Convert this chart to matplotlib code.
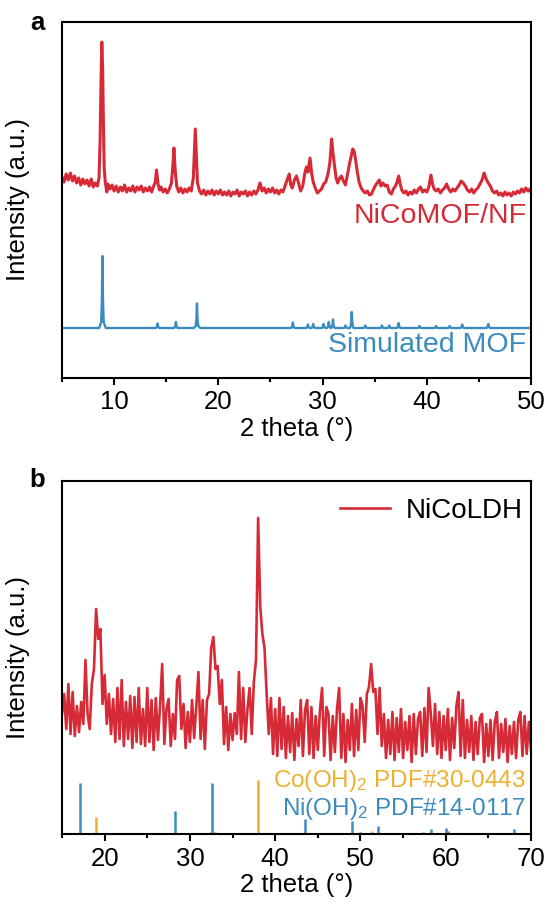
import numpy as np
import matplotlib
matplotlib.use("Agg")
import matplotlib.pyplot as plt
from matplotlib.ticker import MultipleLocator

plt.rcParams['font.family'] = ['Liberation Sans', 'DejaVu Sans']
plt.rcParams['mathtext.fontset'] = 'custom'
plt.rcParams['mathtext.rm'] = 'Liberation Sans'
plt.rcParams['mathtext.it'] = 'Liberation Sans:italic'

RED = '#d62b36'
BLUE = '#3b8bbf'
ORANGE = '#ecb130'
FS = 18.5

# ---- panel a: NiCoMOF/NF measured pattern (2theta, intensity) ----
mof_x = [5.0, 5.2, 5.4, 5.6, 5.8, 6.0, 6.2, 6.4, 6.6, 6.8, 7.0, 7.2, 7.4, 7.6, 7.8, 8.0, 8.2, 8.4,
         8.55, 8.65, 8.75, 8.82, 8.9, 8.98, 9.05, 9.15, 9.3, 9.4,
         9.6, 9.8, 10.0, 10.2, 10.4, 10.6, 10.8, 11.0, 11.2, 11.4, 11.6, 11.8, 12.0, 12.2, 12.4, 12.6,
         12.8, 13.0, 13.2, 13.4, 13.6, 13.8, 13.95, 14.07, 14.2, 14.35,
         14.5, 14.7, 14.9, 15.1, 15.3, 15.5, 15.62, 15.74, 15.86, 16.0, 16.2, 16.4, 16.6, 16.8, 17.0,
         17.2, 17.4, 17.6, 17.72, 17.79, 17.88, 18.0, 18.2, 18.4, 18.6, 18.8, 19.0, 19.2, 19.4, 19.6,
         19.8, 20.0, 20.2, 20.4, 20.6, 20.8, 21.0, 21.2, 21.4, 21.6, 21.8, 22.0, 22.2, 22.4, 22.6,
         22.8, 23.0, 23.2, 23.4, 23.6, 23.8, 24.0, 24.2, 24.4, 24.6, 24.8, 25.0, 25.2, 25.4, 25.6,
         25.8, 26.0, 26.2, 26.4, 26.6, 26.8, 26.95, 27.1, 27.3, 27.5, 27.7, 27.9, 28.1, 28.3, 28.45,
         28.6, 28.8, 28.95, 29.1, 29.3, 29.5, 29.7, 29.9, 30.1, 30.3, 30.5, 30.7, 30.87, 31.0, 31.15,
         31.3, 31.45, 31.6, 31.8, 32.0, 32.2, 32.4, 32.6, 32.75, 32.9, 33.05, 33.2, 33.35, 33.5, 33.7,
         33.9, 34.1, 34.3, 34.5, 34.7, 34.9, 35.1, 35.3, 35.45, 35.6, 35.8, 36.0, 36.2, 36.4, 36.6,
         36.8, 37.0, 37.15, 37.3, 37.45, 37.6, 37.8, 38.0, 38.2, 38.4, 38.6, 38.8, 39.0, 39.2, 39.4,
         39.6, 39.8, 40.0, 40.2, 40.4, 40.55, 40.7, 40.9, 41.1, 41.3, 41.5, 41.7, 41.9, 42.1, 42.3,
         42.5, 42.7, 42.9, 43.1, 43.3, 43.5, 43.7, 43.9, 44.1, 44.3, 44.5, 44.7, 44.9, 45.1, 45.3,
         45.5, 45.7, 45.9, 46.1, 46.3, 46.5, 46.7, 46.9, 47.1, 47.3, 47.5, 47.7, 47.9, 48.1, 48.3,
         48.5, 48.7, 48.9, 49.1, 49.3, 49.5, 49.7, 49.9, 50.0]
mof_y = [201, 196, 204, 198, 205, 197, 202, 195, 200, 193, 199, 194, 198, 192, 199, 191, 195, 192,
         200, 235, 300, 336, 310, 250, 210, 196, 186, 194,
         189, 193, 187, 192, 186, 191, 187, 193, 186, 190, 187, 192, 186, 191, 188, 192,
         186, 190, 187, 191, 186, 192, 196, 208, 195, 188,
         191, 186, 189, 185, 189, 195, 210, 230, 208, 192, 186, 190, 185, 189, 186,
         190, 187, 200, 230, 249, 225, 195, 187, 184, 188, 183, 187, 184, 188, 183,
         187, 184, 188, 183, 186, 183, 187, 182, 186, 184, 188, 182, 186, 184, 187,
         182, 186, 183, 187, 184, 188, 195, 187, 190, 185, 189, 186, 190, 185, 188,
         184, 188, 186, 192, 198, 204, 193, 190, 198, 202, 195, 187, 192, 205, 211,
         206, 220, 205, 196, 190, 185, 187, 189, 194, 196, 203, 215, 239, 225, 212,
         200, 195, 199, 202, 197, 193, 204, 215, 222, 229, 226, 216, 205, 196, 190,
         187, 185, 187, 183, 184, 189, 193, 196, 198, 192, 195, 192, 193, 186, 184,
         189, 192, 196, 202, 194, 188, 185, 187, 183, 186, 184, 188, 185, 189, 191,
         186, 188, 186, 191, 203, 194, 189, 187, 189, 185, 188, 190, 194, 189, 186,
         189, 187, 190, 193, 197, 195, 192, 188, 186, 189, 185, 188, 190, 194, 198,
         205, 199, 195, 192, 187, 185, 187, 183, 185, 182, 186, 183, 185, 182, 186,
         184, 187, 185, 189, 186, 190, 187, 189, 186]

# ---- panel a: simulated MOF peak table ----
sim_base = 50
sim_pos = [8.88, 14.17, 15.93, 17.95, 27.15, 28.6, 29.1, 30.1, 30.6, 31.0, 32.2, 32.8,
           34.1, 35.7, 36.4, 37.3, 39.3, 40.9, 42.2, 43.4, 45.9]
sim_h = [72, 4.5, 6, 24.5, 5.5, 3.5, 4, 4, 6, 8.5, 2.5, 16,
         2.5, 2.5, 2.5, 5, 2, 2, 2, 3.5, 4]

# ---- panel b: NiCoLDH measured pattern, 0.25 deg step from 15 to 70 ----
ldh_y = [120, 140, 105, 150, 100, 142, 98, 128, 102, 132, 110, 174, 120, 105, 150, 165, 225, 195, 205, 130,
         159, 110, 140, 100, 135, 92, 146, 95, 154, 88, 132, 95, 138, 86, 137, 92, 146, 90, 125, 88,
         146, 92, 134, 84, 136, 94, 128, 170, 90, 125, 135, 88, 120, 95, 154, 158, 105, 130, 86, 122,
         92, 134, 96, 128, 162, 95, 134, 85, 134, 140, 186, 197, 165, 168, 130, 154, 90, 127, 84, 120,
         94, 121, 100, 162, 95, 146, 92, 125, 146, 100, 152, 174, 316, 227, 200, 186, 140, 100, 136, 80,
         125, 78, 136, 85, 127, 76, 118, 82, 121, 74, 115, 88, 134, 78, 124, 134, 80, 127, 76, 118,
         84, 124, 146, 78, 127, 120, 74, 118, 82, 125, 146, 76, 120, 72, 114, 84, 130, 78, 124, 84,
         136, 128, 92, 140, 147, 170, 142, 145, 100, 146, 88, 120, 76, 114, 80, 122, 74, 116, 82, 125,
         76, 112, 84, 118, 72, 120, 80, 115, 122, 78, 126, 82, 146, 120, 88, 130, 80, 122, 76, 118,
         84, 125, 74, 116, 86, 128, 142, 78, 134, 76, 114, 82, 118, 74, 112, 80, 116, 120, 72, 110,
         78, 114, 74, 112, 122, 76, 110, 82, 115, 72, 108, 80, 112, 76, 114, 122, 78, 118, 80, 112,
         84]
ldh_x = np.arange(15, 70.001, 0.25)

# ---- panel b: reference cards ----
co_pos = [19.0, 32.4, 37.97, 38.7, 51.4, 57.9, 59.6, 61.5, 69.6]
co_h = [16.7, 2, 54, 1.5, 3.3, 1.5, 1.5, 1.5, 1.5]
ni_pos = [17.1, 28.2, 32.6, 33.0, 43.5, 49.05, 50.0, 52.0, 57.3, 58.3, 60.05, 60.3, 68.0]
ni_h = [50.7, 23, 50.7, 2.3, 15, 13, 2, 8, 2.5, 5, 6, 3, 5]

# build simulated profile as a polyline from the peak table
sx, sy = [5.0], [sim_base]
for p, h in zip(sim_pos, sim_h):
    w = 0.32 if h > 20 else 0.18
    sx += [p - w, p - 0.12, p - 0.05, p, p + 0.05, p + 0.12, p + w]
    sy += [sim_base, sim_base + 0.08 * h, sim_base + 0.4 * h, sim_base + h,
           sim_base + 0.4 * h, sim_base + 0.08 * h, sim_base]
sx.append(50.0)
sy.append(sim_base)

fig = plt.figure(figsize=(5.52, 9.09), dpi=100)
ax1 = fig.add_axes([62 / 552, 1 - 378 / 909, 469 / 552, 356 / 909])
ax2 = fig.add_axes([62 / 552, 1 - 834 / 909, 469 / 552, 353 / 909])


def style(ax):
    for s in ax.spines.values():
        s.set_linewidth(1.5)
    ax.set_yticks([])
    ax.xaxis.set_major_locator(MultipleLocator(10))
    ax.xaxis.set_minor_locator(MultipleLocator(5))
    ax.tick_params(axis='x', which='major', direction='out', length=5, width=1.5,
                   labelsize=FS, pad=4)
    ax.tick_params(axis='x', which='minor', direction='out', length=3, width=1.5)
    ax.set_xlabel('2 theta (°)', fontsize=FS, labelpad=2)
    ax.set_ylabel('Intensity (a.u.)', fontsize=FS)
    ax.yaxis.set_label_coords(-0.068, 0.5)


ax1.plot(mof_x, mof_y, color=RED, lw=2.2)
ax1.plot(sx, sy, color=BLUE, lw=1.7)
ax1.set_xlim(5, 50)
ax1.set_ylim(0, 356)
ax1.text(49.55, 162, 'NiCoMOF/NF', color=RED, fontsize=20.5, ha='right', va='center')
ax1.text(49.55, 33, 'Simulated MOF', color=BLUE, fontsize=20.5, ha='right', va='center')
style(ax1)

ax2.plot(ldh_x, ldh_y, color=RED, lw=1.9, label='NiCoLDH')
ax2.vlines(ni_pos, 0, ni_h, color=BLUE, lw=1.8)
ax2.vlines(co_pos, 0, co_h, color=ORANGE, lw=1.8)
ax2.set_xlim(15, 70)
ax2.set_ylim(0, 353)
ax2.text(69.4, 47, 'Co(OH)$_2$ PDF#30-0443', color=ORANGE, fontsize=17.5, ha='right', va='baseline')
ax2.text(69.4, 19, 'Ni(OH)$_2$ PDF#14-0117', color=BLUE, fontsize=17.5, ha='right', va='baseline')
ax2.legend(loc='upper right', bbox_to_anchor=(1.0, 0.975), frameon=False, fontsize=20,
           borderaxespad=0, borderpad=0.3, handletextpad=0.55, handlelength=1.8)
style(ax2)

fig.text(30 / 552, 1 - 30 / 909, 'a', fontsize=FS, fontweight='bold', va='baseline')
fig.text(29 / 552, 1 - 487 / 909, 'b', fontsize=FS, fontweight='bold', va='baseline')

fig.savefig('out.png', dpi=100)
